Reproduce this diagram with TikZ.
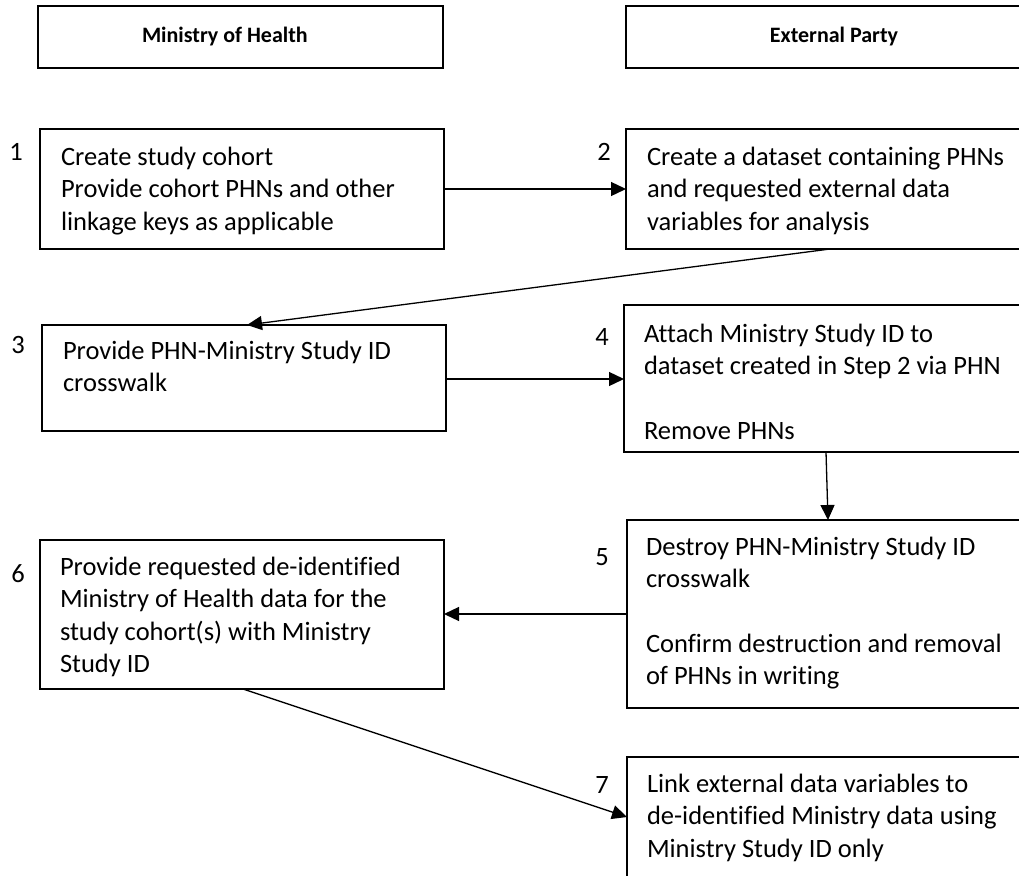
\documentclass[tikz,border=0pt]{standalone}
\usepackage{fontspec}
\setmainfont{Carlito}[Ligatures=NoCommon]
\usetikzlibrary{arrows.meta}
\begin{document}
\begin{tikzpicture}[x=1pt,y=-1pt,
  box/.style={draw, line width=1.5pt, anchor=north west, inner sep=0pt, outer sep=0pt},
  hdr/.style={inner sep=0pt, outer sep=0pt, font=\fontsize{22}{27}\selectfont\bfseries},
  txt/.style={anchor=north west, inner sep=0pt, outer sep=0pt, align=left, font=\fontsize{26.5}{32.3}\selectfont},
  lbl/.style={anchor=base, inner sep=0pt, font=\fontsize{26.5}{32.3}\selectfont},
  arr/.style={line width=1.3pt, -{Triangle[length=15pt,width=14pt]}}
]
\useasboundingbox (0,0) rectangle (1019,875);
\clip (0,0) rectangle (1019,875);

% headers
\node[box, minimum width=405pt, minimum height=62pt] (hL) at (38,6) {};
\node[box, minimum width=416pt, minimum height=62pt] (hR) at (626,6) {};
\node[hdr, anchor=west] (hLt) at (142,37) {Ministry of Health};
\node[hdr] (hRt) at (834,37) {External Party};

% boxes
\node[box, minimum width=404pt, minimum height=120pt] (b1) at (40,129) {};
\node[box, minimum width=409pt, minimum height=120pt] (b2) at (626,129) {};
\node[box, minimum width=404pt, minimum height=106pt] (b3) at (42,325) {};
\node[box, minimum width=411pt, minimum height=147pt] (b4) at (624,305) {};
\node[box, minimum width=408pt, minimum height=188pt] (b5) at (627,520) {};
\node[box, minimum width=404pt, minimum height=149pt] (b6) at (40,540) {};
\node[box, minimum width=408pt, minimum height=160pt] (b7) at (627,757) {};

% box texts
\node[txt] (t1) at ([shift={(21,14)}]b1.north west) {\strut Create study cohort\\Provide cohort PHNs and other\\linkage keys as applicable};
\node[txt] (t2) at ([shift={(21,14)}]b2.north west) {\strut Create a dataset containing PHNs\\and requested external data\\variables for analysis};
\node[txt] (t3) at ([shift={(21,12)}]b3.north west) {\strut Provide PHN-Ministry Study ID\\crosswalk};
\node[txt] (t4) at ([shift={(20,15)}]b4.north west) {\strut Attach Ministry Study ID to\\dataset created in Step 2 via PHN\\[32.3pt]Remove PHNs};
\node[txt] (t5) at ([shift={(19,13)}]b5.north west) {\strut Destroy PHN-Ministry Study ID\\crosswalk\\[32.3pt]Confirm destruction and removal\\of PHNs in writing};
\node[txt] (t6) at ([shift={(20,13)}]b6.north west) {\strut Provide requested de-identified\\Ministry of Health data for the\\study cohort(s) with Ministry\\Study ID};
\node[txt] (t7) at ([shift={(20,13)}]b7.north west) {\strut Link external data variables to\\de-identified Ministry data using\\Ministry Study ID only};

% step labels
\node[lbl] (n1) at (16,160) {1};
\node[lbl] (n2) at (604,160) {2};
\node[lbl] (n3) at (18,353) {3};
\node[lbl] (n4) at (602,345) {4};
\node[lbl] (n5) at (602,565) {5};
\node[lbl] (n6) at (18,582) {6};
\node[lbl] (n7) at (602,793) {7};

% connectors
\draw[arr] (b1.east) -- (b1.east -| b2.west);
\draw[arr] ([xshift=204pt]b2.south west) -- ([xshift=205pt]b3.north west);
\draw[arr] ([yshift=-1pt]b3.east) -- ([yshift=-1pt]b3.east -| b4.west);
\draw[arr] ([xshift=202pt]b4.south west) -- ([xshift=201pt]b5.north west);
\draw[arr] (b5.west) -- (b5.west -| b6.east);
\draw[arr] ([xshift=203pt]b6.south west) -- ([yshift=-60pt]b7.north west);
\end{tikzpicture}
\end{document}
